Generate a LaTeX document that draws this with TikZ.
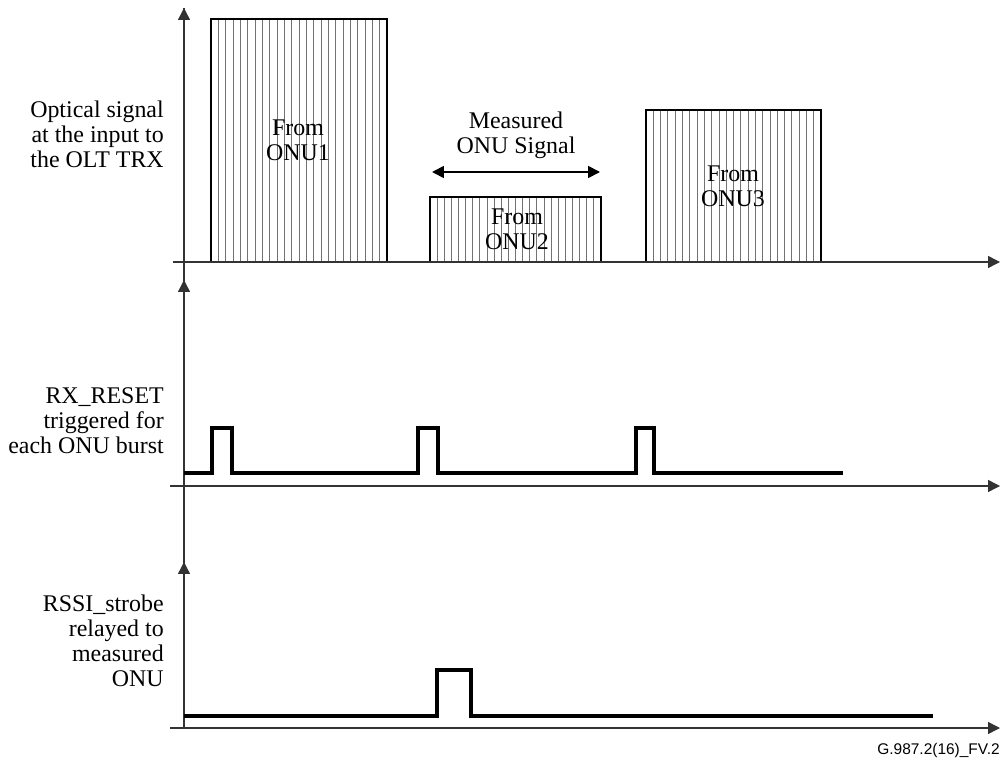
\documentclass[tikz,border=0pt]{standalone}
\usepackage{fontspec}
\setmainfont{Liberation Serif}
\setsansfont{Liberation Sans}
\usetikzlibrary{arrows.meta, positioning}

\begin{document}
\begin{tikzpicture}[x=0.025cm, y=-0.025cm, >={Triangle[length=8.5pt, width=8.5pt]}]
	\tikzstyle{axis} = [line width=1pt, black!80]
	\tikzstyle{burst} = [line width=1pt, draw=black]
	\tikzstyle{hatch} = [line width=0.6pt, black!55]
	\tikzstyle{pulse} = [line width=2.2pt, black]
	\tikzstyle{label} = [align=right, anchor=east, inner sep=0pt, font=\fontsize{17}{17.7}\selectfont]
	\tikzstyle{intext} = [align=center, inner sep=0pt, font=\fontsize{17}{17.7}\selectfont]

	\useasboundingbox (0,0) rectangle (1003,760);

	% hatched bursts
	\foreach \xa/\xb/\yt in {211/387/19, 430/601/197, 646/821/110} {
		\foreach \i in {1,...,23}
			\draw[hatch] ({\xa+\i*(\xb-\xa)/24},\yt) -- ({\xa+\i*(\xb-\xa)/24},262);
		\draw[burst] (\xa,262) rectangle (\xb,\yt);
	}

	% axes
	\draw[axis] (184,728) -- (184,8);
	\draw[axis, ->] (184,30) -- (184,8);
	\draw[axis, ->] (184,300) -- (184,280);
	\draw[axis, ->] (184,582) -- (184,562);
	\draw[axis, ->] (173,262) -- (1000,262);
	\draw[axis, ->] (170,486) -- (1000,486);
	\draw[axis, ->] (170,728) -- (1000,728);

	% signals
	\draw[pulse] (184,473) -| (212,428) -| (232,473) -| (418,428) -| (438,473)
		-| (636,428) -| (654,473) -- (843,473);
	\draw[pulse] (184,716) -| (437,670) -| (471,716) -- (933,716);

	% texts
	\node[intext] (onu1) at (298,140) {From\\ONU1};
	\node[intext] (onu2) at (517,229) {From\\ONU2};
	\node[intext] (onu3) at (733,186) {From\\ONU3};
	\node[intext] (meas) at (516,135) {Measured\\ONU Signal};
	\coordinate (ml) at (432,172);
	\coordinate (mr) at (600,172);
	\draw[line width=1.3pt, <->] (ml) -- (mr);

	\node[label] (optical) at (164,134) {Optical signal\\at the input to\\the OLT TRX};
	\node[label] (rxreset) at (164,421) {RX\_RESET\\triggered for\\each ONU burst};
	\node[label] (rssi) at (164,641) {RSSI\_strobe\\relayed to\\measured\\ONU};

	\node[anchor=east, inner sep=0pt, font=\sffamily\fontsize{11}{13}\selectfont] (tag) at (1000,750) {G.987.2(16)\_FV.2};
\end{tikzpicture}
\end{document}
